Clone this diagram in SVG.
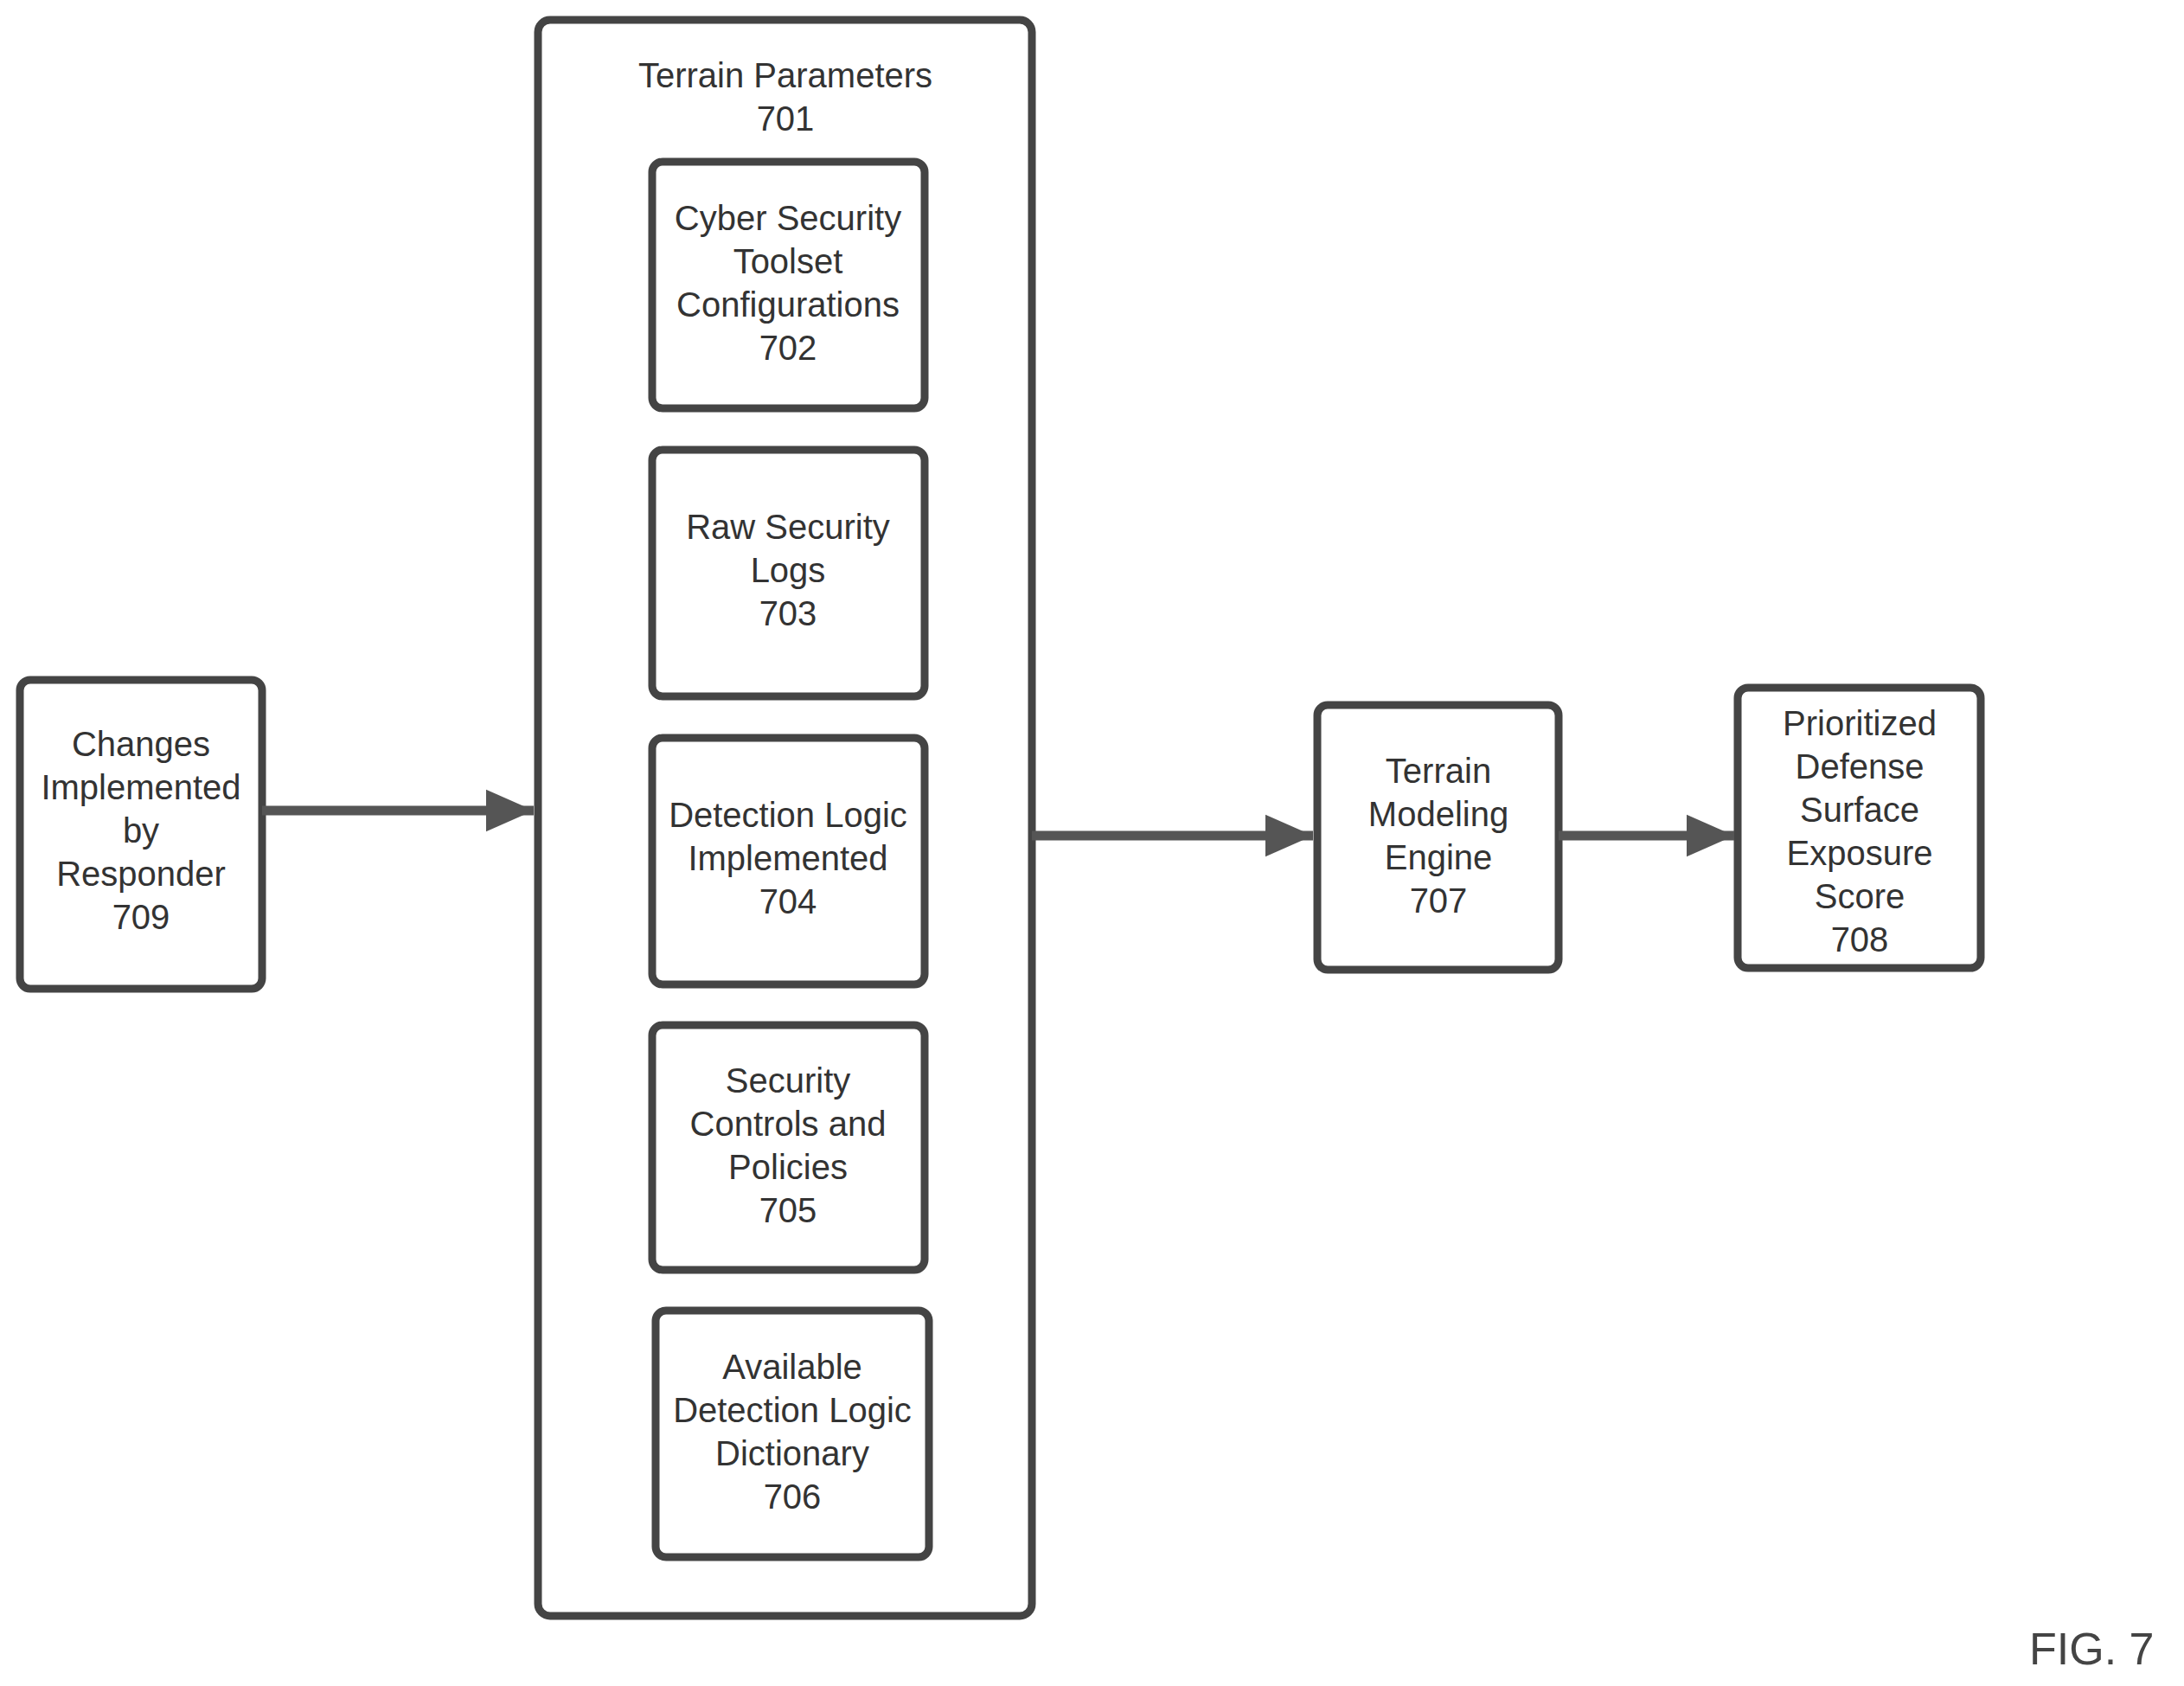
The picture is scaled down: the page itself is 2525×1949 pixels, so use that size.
<svg xmlns="http://www.w3.org/2000/svg" width="2525" height="1949" viewBox="0 0 2525 1949">
<defs>
<style>
.b{fill:#fff;stroke:#444;stroke-width:9}
.t{font-family:"Liberation Sans",Arial,sans-serif;font-size:40px;fill:#333;text-anchor:middle}
.c{stroke:#555;stroke-width:11;fill:none}
</style>
<marker id="a" markerWidth="6" markerHeight="6" refX="5" refY="3" orient="auto" markerUnits="strokeWidth">
<path d="M0,0.8 L5,3 L0,5.2 Z" fill="#555"/>
</marker>
</defs>
<rect width="2525" height="1949" fill="#fff"/>
<g id="n701"><rect class="b" x="622" y="23" width="571" height="1845" rx="14"/>
<text class="t" x="908" y="101">Terrain Parameters</text><text class="t" x="908" y="151">701</text></g>
<g id="n702"><rect class="b" x="754" y="187" width="315" height="285" rx="12"/>
<text class="t" x="911" y="266">Cyber Security</text><text class="t" x="911" y="316">Toolset</text><text class="t" x="911" y="366">Configurations</text><text class="t" x="911" y="416">702</text></g>
<g id="n703"><rect class="b" x="754" y="520" width="315" height="285" rx="12"/>
<text class="t" x="911" y="623">Raw Security</text><text class="t" x="911" y="673">Logs</text><text class="t" x="911" y="723">703</text></g>
<g id="n704"><rect class="b" x="754" y="853" width="315" height="285" rx="12"/>
<text class="t" x="911" y="956">Detection Logic</text><text class="t" x="911" y="1006">Implemented</text><text class="t" x="911" y="1056">704</text></g>
<g id="n705"><rect class="b" x="754" y="1185" width="315" height="283" rx="12"/>
<text class="t" x="911" y="1263">Security</text><text class="t" x="911" y="1313">Controls and</text><text class="t" x="911" y="1363">Policies</text><text class="t" x="911" y="1413">705</text></g>
<g id="n706"><rect class="b" x="758" y="1515" width="316" height="285" rx="12"/>
<text class="t" x="916" y="1594">Available</text><text class="t" x="916" y="1644">Detection Logic</text><text class="t" x="916" y="1694">Dictionary</text><text class="t" x="916" y="1744">706</text></g>
<g id="n709"><rect class="b" x="23" y="786" width="280" height="357" rx="12"/>
<text class="t" x="163" y="874">Changes</text><text class="t" x="163" y="924">Implemented</text><text class="t" x="163" y="974">by</text><text class="t" x="163" y="1024">Responder</text><text class="t" x="163" y="1074">709</text></g>
<g id="n707"><rect class="b" x="1523" y="815" width="279" height="306" rx="12"/>
<text class="t" x="1663" y="905">Terrain</text><text class="t" x="1663" y="955">Modeling</text><text class="t" x="1663" y="1005">Engine</text><text class="t" x="1663" y="1055">707</text></g>
<g id="n708"><rect class="b" x="2009" y="795" width="281" height="324" rx="12"/>
<text class="t" x="2150" y="850">Prioritized</text><text class="t" x="2150" y="900">Defense</text><text class="t" x="2150" y="950">Surface</text><text class="t" x="2150" y="1000">Exposure</text><text class="t" x="2150" y="1050">Score</text><text class="t" x="2150" y="1100">708</text></g>
<g id="connectors">
<line class="c" x1="303" y1="937" x2="617" y2="937" marker-end="url(#a)"/>
<line class="c" x1="1193" y1="966" x2="1518" y2="966" marker-end="url(#a)"/>
<line class="c" x1="1802" y1="966" x2="2005" y2="966" marker-end="url(#a)"/>
</g>
<text x="2346" y="1924" style="font-family:'Liberation Sans',Arial,sans-serif;font-size:52px;fill:#444">FIG. 7</text>
</svg>
